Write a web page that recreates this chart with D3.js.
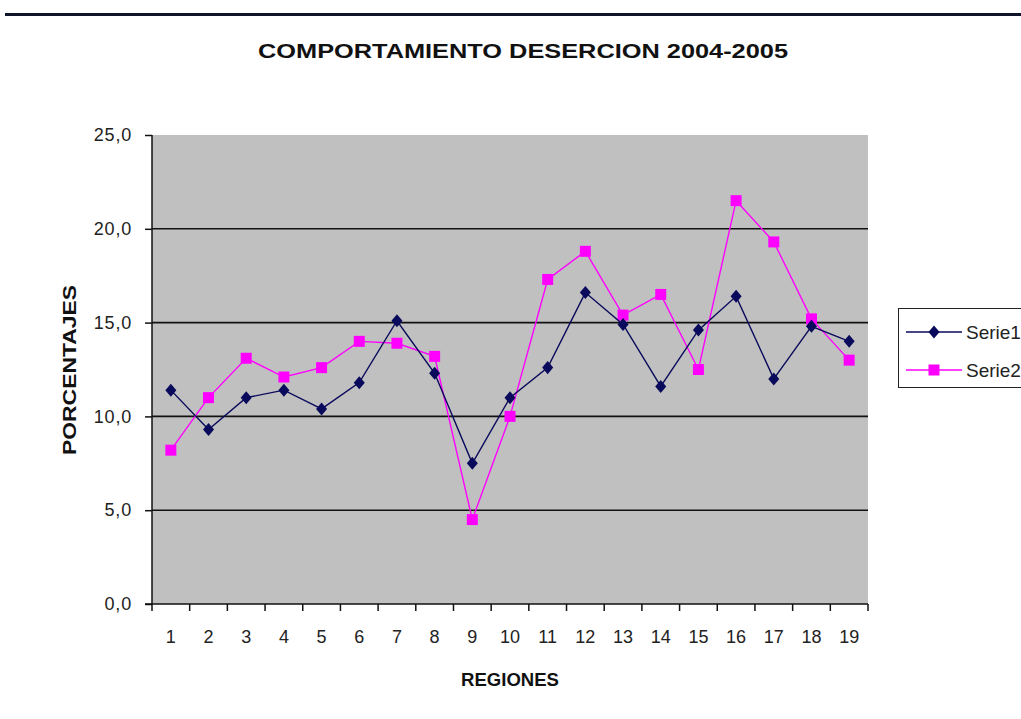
<!DOCTYPE html>
<html>
<head>
<meta charset="utf-8">
<script src="https://cdn.jsdelivr.net/npm/d3@7"></script>
<style>
  body { margin: 0; background: #fff; overflow: hidden; }
  text { font-family: "Liberation Sans", Arial, sans-serif; }
</style>
</head>
<body>
<div class="chart"></div>
<script>
// data
var regiones = d3.range(1, 20).map(String);
var serie1 = [11.4, 9.3, 11.0, 11.4, 10.4, 11.8, 15.1, 12.3, 7.5, 11.0, 12.6, 16.6, 14.9, 11.6, 14.6, 16.4, 12.0, 14.8, 14.0];
var serie2 = [8.2, 11.0, 13.1, 12.1, 12.6, 14.0, 13.9, 13.2, 4.5, 10.0, 17.3, 18.8, 15.4, 16.5, 12.5, 21.5, 19.3, 15.2, 13.0];
var yTicks = [0, 5, 10, 15, 20, 25];

var svgWidth = 1021, svgHeight = 719;
var margin = {top: 135, right: 153, bottom: 115, left: 152};
var width = svgWidth - margin.left - margin.right;
var height = svgHeight - margin.top - margin.bottom;

var svg = d3.select(".chart")
  .append("svg")
  .attr("width", svgWidth)
  .attr("height", svgHeight);

// dark rule across the top
svg.append("rect")
  .attr("x", 5).attr("y", 13)
  .attr("width", svgWidth - 5).attr("height", 3)
  .attr("fill", "#10152a");

svg.append("text")
  .attr("x", 258).attr("y", 58)
  .attr("font-size", 21).attr("font-weight", "bold")
  .attr("fill", "#111")
  .attr("textLength", 530)
  .attr("lengthAdjust", "spacingAndGlyphs")
  .text("COMPORTAMIENTO DESERCION 2004-2005");

var chartGroup = svg.append("g")
  .attr("transform", `translate(${margin.left}, ${margin.top})`);

var xScale = d3.scaleBand()
  .domain(regiones)
  .range([0, width]);

var yScale = d3.scaleLinear()
  .domain([0, 25])
  .range([height, 0]);

// plot area
chartGroup.append("rect")
  .attr("width", width).attr("height", height)
  .attr("fill", "#c0c0c0");

// gridlines
chartGroup.selectAll(".grid")
  .data(yTicks.filter(d => d > 0 && d < 25))
  .enter()
  .append("line")
  .attr("x1", 0).attr("x2", width)
  .attr("y1", d => yScale(d)).attr("y2", d => yScale(d))
  .attr("stroke", "#111").attr("stroke-width", 1.6);

// y axis
var yAxis = d3.axisLeft(yScale)
  .tickValues(yTicks)
  .tickSize(7)
  .tickPadding(13)
  .tickFormat(d => d3.format(".1f")(d).replace(".", ","));

chartGroup.append("g")
  .call(yAxis)
  .call(g => g.select(".domain").attr("stroke", "#111").attr("stroke-width", 1.5).attr("d", `M0,${height}V0`))
  .call(g => g.selectAll(".tick line").attr("stroke", "#111").attr("stroke-width", 1.5))
  .call(g => g.selectAll(".tick text").attr("font-size", 18).attr("fill", "#222")
    .attr("letter-spacing", 0.8)
    .attr("font-family", "'Liberation Sans', Arial, sans-serif"));

// x axis: ticks at category boundaries
var xAxisG = chartGroup.append("g")
  .attr("transform", `translate(0, ${height})`);

xAxisG.append("line")
  .attr("x1", -7).attr("x2", width)
  .attr("stroke", "#111").attr("stroke-width", 1.5);

xAxisG.selectAll(".xtick")
  .data(d3.range(regiones.length + 1))
  .enter()
  .append("line")
  .attr("x1", i => i < regiones.length ? xScale(regiones[i]) : width)
  .attr("x2", i => i < regiones.length ? xScale(regiones[i]) : width)
  .attr("y1", 0).attr("y2", 7)
  .attr("stroke", "#111").attr("stroke-width", 1.5);

xAxisG.selectAll(".xlabel")
  .data(regiones)
  .enter()
  .append("text")
  .attr("x", d => xScale(d) + xScale.bandwidth() / 2)
  .attr("y", 39)
  .attr("text-anchor", "middle")
  .attr("font-size", 18).attr("fill", "#222")
  .text(d => d);

// axis titles
svg.append("text")
  .attr("x", 461).attr("y", 686)
  .attr("font-size", 17.5).attr("font-weight", "bold")
  .attr("fill", "#111")
  .attr("textLength", 98)
  .attr("lengthAdjust", "spacingAndGlyphs")
  .text("REGIONES");

svg.append("text")
  .attr("transform", "translate(76, 455) rotate(-90)")
  .attr("font-size", 17.5).attr("font-weight", "bold")
  .attr("fill", "#111")
  .attr("textLength", 170)
  .attr("lengthAdjust", "spacingAndGlyphs")
  .text("PORCENTAJES");

var cx = (d, i) => xScale(regiones[i]) + xScale.bandwidth() / 2;

// excel-like diamond: a bit wider than d3's own
var diamond = {
  draw: function(context, size) {
    var h = Math.sqrt(size) * 0.62, w = h * 0.85;
    context.moveTo(0, -h);
    context.lineTo(w, 0);
    context.lineTo(0, h);
    context.lineTo(-w, 0);
    context.closePath();
  }
};

var series = [
  {name: "Serie1", values: serie1, color: "#0a0a5c", symbol: diamond, size: 110},
  {name: "Serie2", values: serie2, color: "#ff00ff", symbol: d3.symbolSquare, size: 121}
];

// draw serie2 first so serie1 sits on top like the picture
series.slice().reverse().forEach(function(s) {
  var line = d3.line()
    .x(cx)
    .y(d => yScale(d));

  chartGroup.append("path")
    .datum(s.values)
    .attr("fill", "none")
    .attr("stroke", s.color)
    .attr("stroke-width", 1.4)
    .attr("d", line);

  chartGroup.selectAll(".m-" + s.name)
    .data(s.values)
    .enter()
    .append("path")
    .attr("transform", (d, i) => `translate(${cx(d, i)}, ${yScale(d)})`)
    .attr("d", d3.symbol().type(s.symbol).size(s.size))
    .attr("fill", s.color);
});

// legend (runs off the right edge like the original)
var legend = svg.append("g");
legend.append("rect")
  .attr("x", 898.5).attr("y", 308.5)
  .attr("width", 140).attr("height", 79)
  .attr("fill", "#fff")
  .attr("stroke", "#222").attr("stroke-width", 1);

series.forEach(function(s, i) {
  var ly = 332 + i * 38;
  legend.append("line")
    .attr("x1", 906).attr("x2", 962)
    .attr("y1", ly).attr("y2", ly)
    .attr("stroke", s.color).attr("stroke-width", 1.5);
  legend.append("path")
    .attr("transform", `translate(934, ${ly})`)
    .attr("d", d3.symbol().type(s.symbol).size(s.size))
    .attr("fill", s.color);
  legend.append("text")
    .attr("x", 966).attr("y", ly + 7)
    .attr("font-size", 19).attr("fill", "#222")
    .text(s.name);
});
</script>
</body>
</html>
